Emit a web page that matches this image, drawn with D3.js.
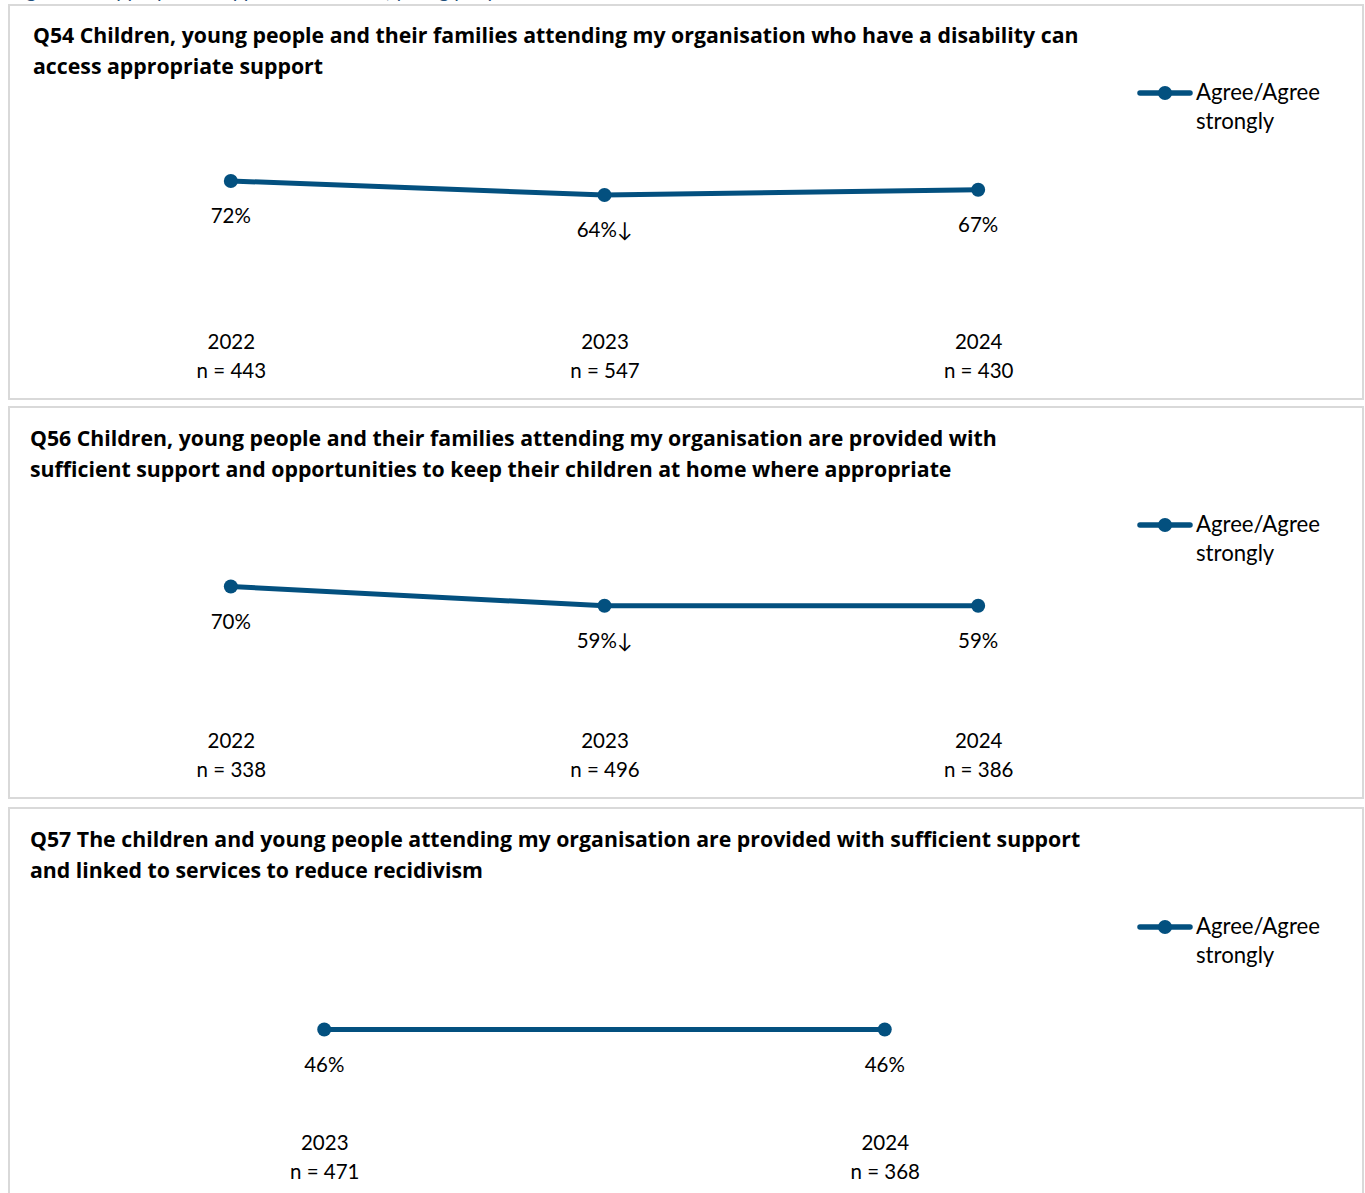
<!DOCTYPE html>
<html><head><meta charset="utf-8">
<script src="https://cdn.jsdelivr.net/npm/d3@7"></script>
<style>
html,body{margin:0;padding:0;background:#fff;overflow:hidden}
svg{display:block}
text{font-family:Lato,"Open Sans",sans-serif;fill:#000}
</style></head><body>
<svg id="chart" width="1365" height="1193"></svg>
<script>
// ---- data ----
const headerText = "Figure 19: Appropriate support for children, young people and their families";
const titles = [
  ["Q54 Children, young people and their families attending my organisation who have a disability can", "access appropriate support"],
  ["Q56 Children, young people and their families attending my organisation are provided with", "sufficient support and opportunities to keep their children at home where appropriate"],
  ["Q57 The children and young people attending my organisation are provided with sufficient support", "and linked to services to reduce recidivism"]
];
const years1 = ["2022", "2023", "2024"];
const years2 = ["2022", "2023", "2024"];
const years3 = ["2023", "2024"];
const values1 = [72, 64, 67];
const values2 = [70, 59, 59];
const values3 = [46, 46];
const nLabels1 = ["n = 443", "n = 547", "n = 430"];
const nLabels2 = ["n = 338", "n = 496", "n = 386"];
const nLabels3 = ["n = 471", "n = 368"];
const sigDown1 = [false, true, false];
const sigDown2 = [false, true, false];
const sigDown3 = [false, false];
const seriesName = ["Agree/Agree", "strongly"];

const panelsData = [
  {title: titles[0], years: years1, values: values1, n: nLabels1, sig: sigDown1},
  {title: titles[1], years: years2, values: values2, n: nLabels2, sig: sigDown2},
  {title: titles[2], years: years3, values: values3, n: nLabels3, sig: sigDown3}
];

// ---- layout ----
const color = "#03507f";
const panelTops = [5, 407, 808];
const panelHeights = [394, 391, 392];
const titleX = [33, 30, 30];
const titleY = [38, 39, 39];
const legendY = [88, 118, 119];
const axisY = [330, 327, 328];

const svg = d3.select("#chart");

// fit a font size so a probe string reaches a target width
function fitSize(family, weight, str, target, base) {
  const probe = svg.append("text").style("font-family", family).style("font-weight", weight)
    .style("font-size", base + "px").text(str);
  const w = probe.node().getComputedTextLength();
  probe.remove();
  return base * target / w;
}
const titleFont = "'Open Sans',Lato,sans-serif";
const titleSize = fitSize(titleFont, "bold", titles[0][0], 1046, 20);
const legendSize = fitSize("Lato,'Open Sans',sans-serif", "normal", seriesName[0], 124, 20);

// clipped header line at the very top
svg.append("text").attr("x", 10).attr("y", -2)
  .style("font-size", "20px").style("fill", "#1f4e79")
  .text(headerText);

panelsData.forEach((p, i) => {
  const g = svg.append("g").attr("transform", `translate(0,${panelTops[i]})`);
  g.append("rect").attr("x", 9).attr("y", 0).attr("width", 1354).attr("height", panelHeights[i])
    .attr("fill", "#fff").attr("stroke", "#d9d9d9").attr("stroke-width", 2);

  const t = g.append("text").attr("x", titleX[i]).attr("y", titleY[i])
    .style("font-family", titleFont)
    .style("font-size", titleSize + "px").style("font-weight", "bold");
  p.title.forEach((line, k) => {
    t.append("tspan").attr("x", titleX[i]).attr("dy", k === 0 ? 0 : 31).text(line);
  });

  const x = d3.scalePoint().domain(p.years).range([44, 1165]).padding(0.5);
  const y = d3.scaleLinear().domain([0, 100]).range([302, 127]);

  const line = d3.line().x((d, j) => x(p.years[j])).y(d => y(d));
  g.append("path").datum(p.values).attr("d", line)
    .attr("fill", "none").attr("stroke", color).attr("stroke-width", 5)
    .attr("stroke-linejoin", "round");

  g.selectAll("circle.pt").data(p.values).enter().append("circle")
    .attr("cx", (d, j) => x(p.years[j])).attr("cy", d => y(d)).attr("r", 7)
    .attr("fill", color);

  g.selectAll("text.lbl").data(p.values).enter().append("text")
    .attr("x", (d, j) => x(p.years[j])).attr("y", d => y(d) + 42)
    .attr("text-anchor", "middle").style("font-size", "20.5px")
    .text((d, j) => d + "%" + (p.sig[j] ? "\u2193" : ""));

  // category axis (no line), two-line labels
  const axis = d3.axisBottom(x).tickSize(0).tickPadding(0);
  const ax = g.append("g").attr("transform", `translate(0,${axisY[i]})`).call(axis);
  ax.select(".domain").remove();
  ax.selectAll(".tick text").remove();
  ax.selectAll(".tick").each(function(d, j) {
    const tk = d3.select(this);
    tk.append("text").attr("y", 14).attr("text-anchor", "middle")
      .style("font-size", "20.5px").style("font-family", "Lato,'Open Sans',sans-serif").attr("fill", "#000").text(d);
    tk.append("text").attr("y", 43).attr("text-anchor", "middle")
      .style("font-size", "20.5px").style("font-family", "Lato,'Open Sans',sans-serif").attr("fill", "#000").text(p.n[j]);
  });

  // legend
  const lg = g.append("g").attr("transform", `translate(0,${legendY[i]})`);
  lg.append("line").attr("x1", 1140).attr("x2", 1190).attr("y1", 0).attr("y2", 0)
    .attr("stroke", color).attr("stroke-width", 5.5).attr("stroke-linecap", "round");
  lg.append("circle").attr("cx", 1165).attr("cy", 0).attr("r", 7).attr("fill", color);
  const lt = lg.append("text").attr("x", 1196).attr("y", 7).style("font-size", legendSize + "px");
  seriesName.forEach((s, k) => lt.append("tspan").attr("x", 1196).attr("dy", k === 0 ? 0 : 29).text(s));
});
</script>
</body></html>
